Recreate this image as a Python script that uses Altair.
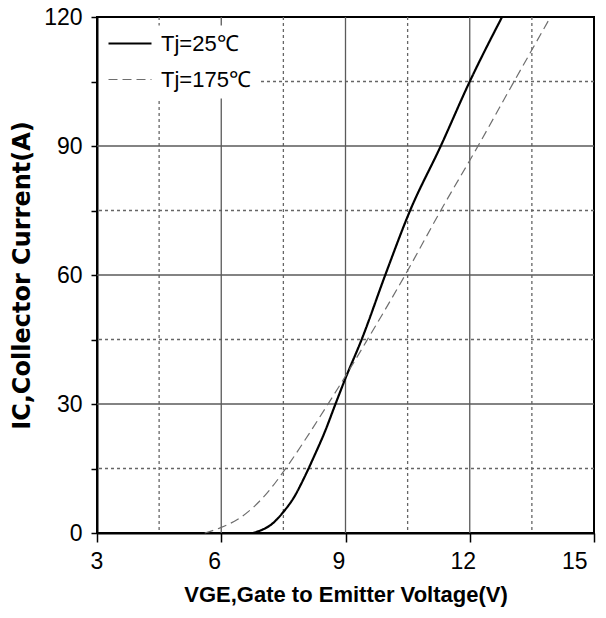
import altair as alt
import pandas as pd

# Tj = 25 °C transfer curve (VGE [V], IC [A])
vge_25 = [6.75, 7.0, 7.25, 7.5, 7.75, 8.0, 8.25, 8.5, 8.75, 9.0, 9.39, 9.96, 10.56, 11.3, 12.0, 12.78]
ic_25 = [0.0, 0.8, 2.3, 4.9, 8.2, 12.8, 18.0, 23.5, 29.8, 36.0, 45.0, 60.0, 75.0, 90.0, 105.0, 120.0]

# Tj = 175 °C transfer curve
vge_175 = [5.6, 6.0, 6.4, 6.8, 7.2, 7.6, 8.0, 8.5, 9.0, 9.5, 10.44, 11.3, 12.2, 13.07, 13.95]
ic_175 = [0.0, 1.3, 3.2, 6.2, 10.4, 15.6, 21.3, 28.8, 36.5, 44.5, 60.0, 75.0, 90.0, 105.0, 120.0]

series_names = ["Tj=25℃", "Tj=175℃"]

x_major = [6, 9, 12]
x_minor = [4.5, 7.5, 10.5, 13.5]
y_major = [30, 60, 90]
y_minor = [15, 45, 75, 105]
x_ticks = [3, 6, 9, 12, 15]
y_ticks = [0, 15, 30, 45, 60, 75, 90, 105, 120]

curves = pd.concat([
    pd.DataFrame({"v": vge_25, "i": ic_25, "s": series_names[0]}),
    pd.DataFrame({"v": vge_175, "i": ic_175, "s": series_names[1]}),
])

xs = alt.Scale(domain=[3, 15], nice=False, zero=False)
ys = alt.Scale(domain=[0, 120], nice=False)

ARIAL = "Liberation Sans, Arial, sans-serif"

grid_major_x = alt.Chart(pd.DataFrame({"v": x_major})).mark_rule(
    color="#5a5a5a", strokeWidth=1.3).encode(x=alt.X("v:Q", scale=xs))
grid_minor_x = alt.Chart(pd.DataFrame({"v": x_minor})).mark_rule(
    color="#666666", strokeWidth=1.3, strokeDash=[3, 3]).encode(x=alt.X("v:Q", scale=xs))
grid_major_y = alt.Chart(pd.DataFrame({"i": y_major})).mark_rule(
    color="#5a5a5a", strokeWidth=1.3).encode(y=alt.Y("i:Q", scale=ys))
grid_minor_y = alt.Chart(pd.DataFrame({"i": y_minor})).mark_rule(
    color="#666666", strokeWidth=1.3, strokeDash=[3, 3]).encode(y=alt.Y("i:Q", scale=ys))

legend_common = dict(title=None, orient="none", legendX=2, legendY=8.5)

lines = alt.Chart(curves).mark_line(interpolate="monotone").encode(
    x=alt.X("v:Q", scale=xs, axis=alt.Axis(
        values=x_ticks, title="VGE,Gate to Emitter Voltage(V)", grid=False,
        tickSize=9, labelPadding=8, labelOffset=-7, titlePadding=11,
        titleFont=ARIAL, titleFontSize=22, titleFontWeight="bold")),
    y=alt.Y("i:Q", scale=ys, axis=alt.Axis(
        values=y_ticks, title="IC,Collector Current(A)", grid=False,
        tickSize=6, labelPadding=9,
        labelExpr="datum.value % 30 == 0 ? datum.label : ''",
        titleFont="DejaVu Sans", titleFontSize=24, titleFontWeight="bold",
        titlePadding=9)),
    color=alt.Color("s:N", scale=alt.Scale(domain=series_names, range=["#000000", "#6e6e6e"]),
                    legend=alt.Legend(**legend_common,
                                      fillColor="white", padding=8, symbolType="stroke",
                                      symbolSize=1849, clipHeight=20, labelOffset=8, rowPadding=14,
                                      labelFont=ARIAL, labelFontSize=22, labelColor="black")),
    strokeDash=alt.StrokeDash("s:N", scale=alt.Scale(domain=series_names, range=[[1, 0], [9, 5]]),
                              legend=alt.Legend(**legend_common)),
    strokeWidth=alt.StrokeWidth("s:N", scale=alt.Scale(domain=series_names, range=[2.2, 1.2]),
                                legend=None),
)

chart = alt.layer(grid_minor_x, grid_minor_y, grid_major_x, grid_major_y, lines).properties(
    width=497, height=516,
    autosize=alt.AutoSizeParams(type="none"),
    padding={"left": 97, "top": 17, "right": 12, "bottom": 85},
    background="white",
).configure_view(
    stroke="black", strokeWidth=2
).configure_axis(
    domainColor="black", domainWidth=2, tickColor="black", tickWidth=1.5,
    labelFont=ARIAL, labelFontSize=23, labelColor="black", titleColor="black",
)

chart.save("out.html", embed_options={"renderer": "svg", "actions": False})
